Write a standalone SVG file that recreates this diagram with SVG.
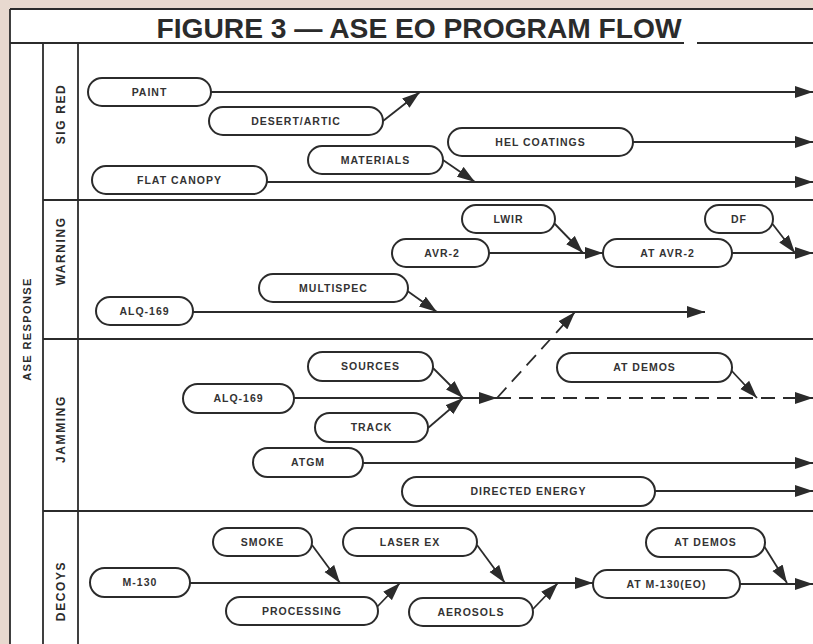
<svg xmlns="http://www.w3.org/2000/svg" width="813" height="644" viewBox="0 0 813 644">
  <style>
    .frame { stroke: #2b2b2b; stroke-width: 1.8; fill: none; }
    .node rect { fill: #ffffff; stroke: #2b2b2b; stroke-width: 2; }
    .node text { font-family: "Liberation Sans", Arial, sans-serif; font-weight: bold; font-size: 10.5px; letter-spacing: 1px; fill: #333333; text-anchor: middle; }
    .lane { font-family: "Liberation Sans", Arial, sans-serif; font-weight: bold; font-size: 12px; letter-spacing: 1.6px; fill: #2b2b2b; text-anchor: middle; }
    .axis { font-family: "Liberation Sans", Arial, sans-serif; font-weight: bold; font-size: 11px; letter-spacing: 1.4px; fill: #2b2b2b; text-anchor: middle; }
    .title { font-family: "Liberation Sans Narrow", "Liberation Sans", Arial, sans-serif; font-weight: bold; font-size: 28px; fill: #2b2b2b; text-anchor: middle; }
    #connectors path { fill: none; stroke: #2b2b2b; stroke-width: 1.8; marker-end: url(#arrow); }
    #connectors path.dashed { stroke-dasharray: 14 8; }
  </style>
  <defs>
    <marker id="arrow" markerUnits="userSpaceOnUse" markerWidth="19" markerHeight="13" refX="18" refY="6.5" orient="auto">
      <path d="M0,0.5 L18,6.5 L0,12.5 z" fill="#2b2b2b"/>
    </marker>
  </defs>

  <!-- paper and chart area -->
  <rect x="0" y="0" width="813" height="644" fill="#e8d9cf"/>
  <rect x="10" y="9" width="803" height="635" fill="#ffffff"/>

  <!-- frame and lane grid -->
  <g id="grid" class="frame">
    <path d="M10,9 H813"/>
    <path d="M10,9 V644"/>
    <path d="M10,43 H684 M697,43 H813"/>
    <path d="M43,43 V644"/>
    <path d="M78,43 V644"/>
    <path d="M43,200 H813"/>
    <path d="M43,339 H813"/>
    <path d="M43,511 H813"/>
  </g>

  <text class="title" x="419" y="38" textLength="525" lengthAdjust="spacingAndGlyphs">FIGURE 3 — ASE EO PROGRAM FLOW</text>

  <!-- side labels -->
  <text class="axis" transform="translate(31,329) rotate(-90)">ASE RESPONSE</text>
  <text class="lane" transform="translate(65,114) rotate(-90)">SIG RED</text>
  <text class="lane" transform="translate(65,251) rotate(-90)">WARNING</text>
  <text class="lane" transform="translate(65,429) rotate(-90)">JAMMING</text>
  <text class="lane" transform="translate(65,591) rotate(-90)">DECOYS</text>

  <!-- connectors -->
  <g id="connectors">
    <!-- SIG RED -->
    <path d="M211,92 H813"/>
    <path d="M383,121 L420,92"/>
    <path d="M633,142 H813"/>
    <path d="M443,160 L475,182"/>
    <path d="M267,182 H813"/>
    <!-- WARNING -->
    <path d="M489,253 H603"/>
    <path d="M553,222 L583,253"/>
    <path d="M732,253 H813"/>
    <path d="M771,222 L795,253"/>
    <path d="M193,312 H705"/>
    <path d="M406,290 L437,312"/>
    <!-- JAMMING -->
    <path d="M294,398 H497"/>
    <path d="M433,368 L463,398"/>
    <path d="M428,428 L463,398"/>
    <path class="dashed" d="M497,398 H813"/>
    <path class="dashed" d="M497,398 L575,312"/>
    <path d="M730,369 L757,398"/>
    <path d="M363,463 H813"/>
    <path d="M655,491 H813"/>
    <!-- DECOYS -->
    <path d="M190,583 H593"/>
    <path d="M312,545 L340,583"/>
    <path d="M377,607 L400,583"/>
    <path d="M477,545 L505,583"/>
    <path d="M533,609 L558,583"/>
    <path d="M740,584 H813"/>
    <path d="M764,546 L787,583"/>
  </g>

  <!-- SIG RED nodes -->
  <g id="paint" class="node"><rect x="88" y="78" width="123" height="28" rx="14"/><text x="149.5" y="95.8">PAINT</text></g>
  <g id="desert-artic" class="node"><rect x="209" y="107" width="174" height="28" rx="14"/><text x="296" y="124.8">DESERT/ARTIC</text></g>
  <g id="materials" class="node"><rect x="308" y="146" width="135" height="28" rx="14"/><text x="375.5" y="163.8">MATERIALS</text></g>
  <g id="flat-canopy" class="node"><rect x="92" y="166" width="175" height="28" rx="14"/><text x="179.5" y="183.8">FLAT CANOPY</text></g>
  <g id="hel-coatings" class="node"><rect x="448" y="128" width="185" height="28" rx="14"/><text x="540.5" y="145.8">HEL COATINGS</text></g>

  <!-- WARNING nodes -->
  <g id="lwir" class="node"><rect x="462" y="205" width="93" height="28" rx="14"/><text x="508.5" y="222.8">LWIR</text></g>
  <g id="df" class="node"><rect x="705" y="205" width="68" height="28" rx="14"/><text x="739" y="222.8">DF</text></g>
  <g id="avr-2" class="node"><rect x="392" y="239" width="97" height="28" rx="14"/><text x="442" y="256.8">AVR-2</text></g>
  <g id="at-avr-2" class="node"><rect x="603" y="239" width="129" height="28" rx="14"/><text x="667.5" y="256.8">AT AVR-2</text></g>
  <g id="multispec" class="node"><rect x="259" y="274" width="149" height="28" rx="14"/><text x="333.5" y="291.8">MULTISPEC</text></g>
  <g id="alq-169-warning" class="node"><rect x="96" y="297" width="97" height="28" rx="14"/><text x="144.5" y="314.8">ALQ-169</text></g>

  <!-- JAMMING nodes -->
  <g id="sources" class="node"><rect x="308" y="352" width="125" height="29" rx="14.5"/><text x="370.5" y="370.3">SOURCES</text></g>
  <g id="at-demos-jamming" class="node"><rect x="557" y="353" width="175" height="29" rx="14.5"/><text x="644.5" y="371.3">AT DEMOS</text></g>
  <g id="alq-169-jamming" class="node"><rect x="183" y="384" width="111" height="29" rx="14.5"/><text x="238.5" y="402.3">ALQ-169</text></g>
  <g id="track" class="node"><rect x="315" y="413" width="113" height="29" rx="14.5"/><text x="371.5" y="431.3">TRACK</text></g>
  <g id="atgm" class="node"><rect x="253" y="448" width="110" height="29" rx="14.5"/><text x="308" y="466.3">ATGM</text></g>
  <g id="directed-energy" class="node"><rect x="402" y="477" width="253" height="29" rx="14.5"/><text x="528.5" y="495.3">DIRECTED ENERGY</text></g>

  <!-- DECOYS nodes -->
  <g id="smoke" class="node"><rect x="213" y="528" width="99" height="28" rx="14"/><text x="262.5" y="545.8">SMOKE</text></g>
  <g id="laser-ex" class="node"><rect x="343" y="528" width="134" height="28" rx="14"/><text x="410" y="545.8">LASER EX</text></g>
  <g id="at-demos-decoys" class="node"><rect x="646" y="528" width="119" height="29" rx="14.5"/><text x="705.5" y="546.3">AT DEMOS</text></g>
  <g id="m-130" class="node"><rect x="90" y="568" width="100" height="29" rx="14.5"/><text x="140" y="586.3">M-130</text></g>
  <g id="at-m-130-eo" class="node"><rect x="593" y="570" width="147" height="28" rx="14"/><text x="666.5" y="587.8">AT M-130(EO)</text></g>
  <g id="processing" class="node"><rect x="226" y="597" width="152" height="28" rx="14"/><text x="302" y="614.8">PROCESSING</text></g>
  <g id="aerosols" class="node"><rect x="409" y="598" width="124" height="28" rx="14"/><text x="471" y="615.8">AEROSOLS</text></g>
</svg>
